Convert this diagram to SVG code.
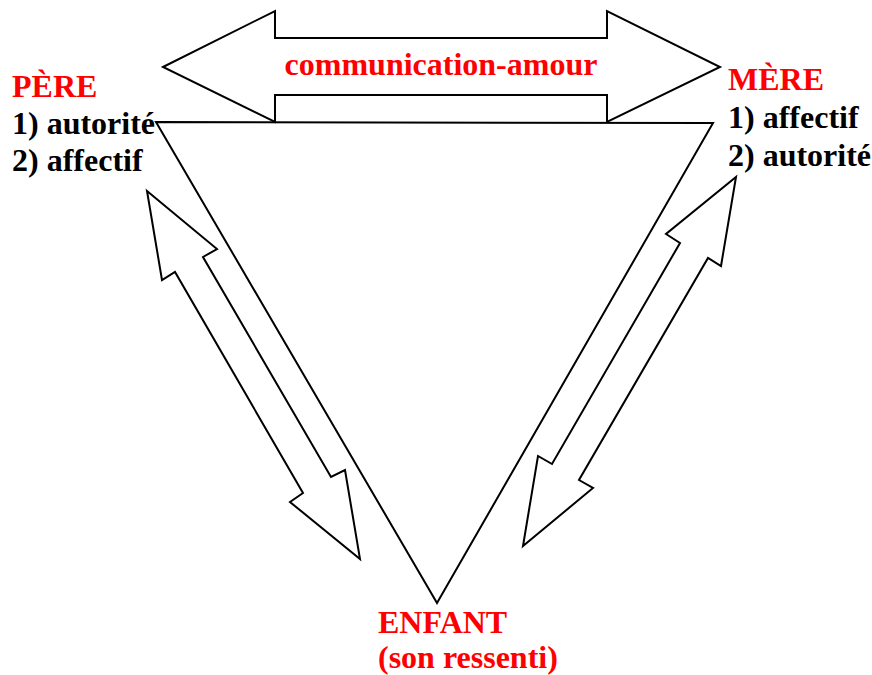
<svg xmlns="http://www.w3.org/2000/svg" width="872" height="675" viewBox="0 0 872 675">
<style>
.shape{fill:#fff;stroke:#000;stroke-width:2;stroke-linejoin:miter}
text{font-family:'Liberation Serif','Times New Roman','DejaVu Serif',serif;font-weight:bold;font-size:32px}
.red{fill:#ff0000}
.blk{fill:#000}
</style>
<rect width="872" height="675" fill="#fff"/>
<g id="connectors">
<polygon class="shape" points="156,122 713,123 437,603"/>
<polygon class="shape" points="163,67 275,11 275,38 607,38 607,11 720,67 607,122 607,95 275,95 275,122"/>
<polygon class="shape" points="147,191 217,249 203,257 331,477 345,470 360,559 290,502 303,493 175,272 162,280"/>
<polygon class="shape" points="736,177 721,266 708,258 579,480 593,488 523,546 538,456 552,464 680,243 666,234"/>
</g>
<g id="label-communication">
<text class="red" x="441" y="75" text-anchor="middle">communication-amour</text>
</g>
<g id="node-pere">
<text class="red" x="12" y="97">PÈRE</text>
<text class="blk" x="12" y="134">1) autorité</text>
<text class="blk" x="12" y="171">2) affectif</text>
</g>
<g id="node-mere">
<text class="red" x="728" y="90">MÈRE</text>
<text class="blk" x="728" y="128">1) affectif</text>
<text class="blk" x="728" y="166">2) autorité</text>
</g>
<g id="node-enfant">
<text class="red" x="378" y="633">ENFANT</text>
<text class="red" x="378" y="668">(son ressenti)</text>
</g>
</svg>
